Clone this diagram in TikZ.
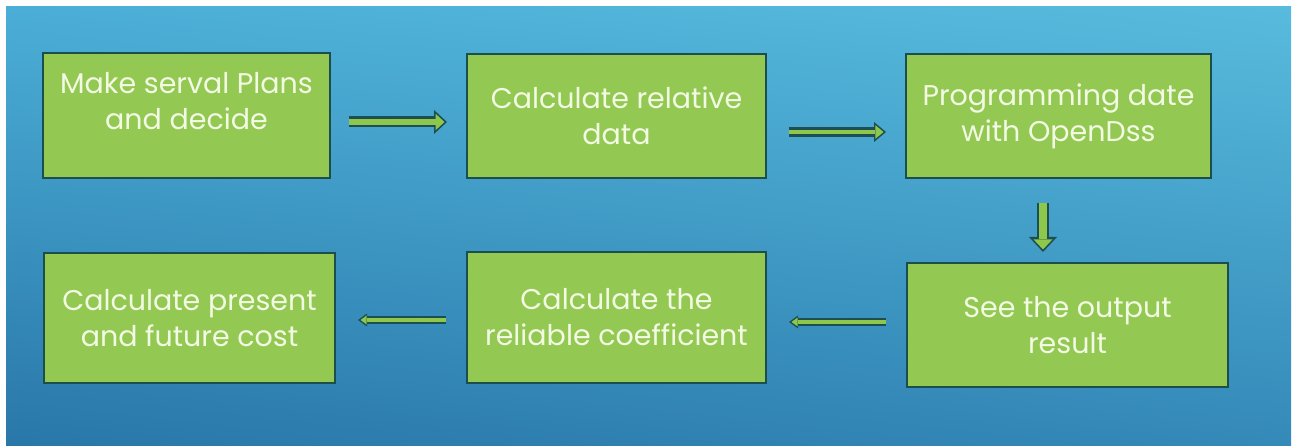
\documentclass[tikz,border=0pt]{standalone}
\usepackage{fontspec}
\setmainfont{Poppins}
\usepackage{xcolor}
\usepackage{tikz}
\usetikzlibrary{arrows.meta, positioning, calc, shadings}
\definecolor{skytop}{HTML}{4BAED6}
\definecolor{skytopright}{HTML}{58BBDD}
\definecolor{seabottom}{HTML}{2977A9}
\definecolor{seabottomright}{HTML}{3489B8}
\definecolor{panelgreen}{HTML}{93C953}
\definecolor{paneledge}{HTML}{1C4E4C}
\definecolor{labelwhite}{HTML}{F3FAE3}
\definecolor{arrowgreen}{HTML}{8DC84D}
\definecolor{arrowdark}{HTML}{1D4F52}

\tikzset{
  panel/.style={draw=paneledge, line width=2pt, fill=panelgreen, text=labelwhite,
    font=\fontsize{28.5}{36}\selectfont, align=center, inner sep=0pt},
  flowarrow/.style n args={3}{
    preaction={draw=arrowdark, line width=#1, -{Triangle[length=#3, width=#2, line width=0pt]}},
    draw=arrowgreen, line width=#1-5pt,
    -{Triangle[length=#3, width=#2, scale=0.68, sep=2.5pt, line width=0pt]}},
}

\begin{document}
\begin{tikzpicture}[x=1pt, y=-1pt]
  % Page frame and backdrop
  \useasboundingbox (0,0) rectangle (1298,446);
  \shade[upper left=skytop, upper right=skytopright, lower left=seabottom, lower right=seabottomright]
    (6,7) rectangle (1291,446);

  % Top row of steps
  \node[panel, minimum width=287pt, minimum height=125pt] (plans) at (186.5,115.5)
    {Make serval Plans\\and decide\\[-6pt]\mbox{}};
  \node[panel, minimum width=299pt, minimum height=124pt] (relative) at (616.5,116)
    {Calculate relative\\data};
  \node[panel, minimum width=305pt, minimum height=124pt] (program) at (1058.5,116)
    {Programming date\\with OpenDss};

  % Bottom row of steps
  \node[panel, minimum width=321pt, minimum height=124pt] (output) at (1067.5,325)
    {See the output\\result};
  \node[panel, minimum width=299pt, minimum height=131pt] (reliable) at (616.5,317.5)
    {Calculate the\\reliable coefficient};
  \node[panel, minimum width=291pt, minimum height=130pt] (cost) at (189.5,318)
    {Calculate present\\and future cost};

  % Block arrows between steps
  \draw[flowarrow={11pt}{24pt}{13pt}, shorten <=18pt, shorten >=19pt]
    ([yshift=-6.5pt]plans.east) -- ([yshift=-6.5pt]plans.east -| relative.west);
  \draw[flowarrow={9.5pt}{20pt}{12pt}, shorten <=22pt, shorten >=19pt]
    ([yshift=-16pt]relative.east) -- ([yshift=-16pt]relative.east -| program.west);
  \draw[flowarrow={12.5pt}{28pt}{15pt}, shorten <=24pt, shorten >=10pt]
    ([xshift=-15.5pt]program.south) -- ([xshift=-15.5pt]program.south |- output.north);
  \draw[flowarrow={8.5pt}{13pt}{9pt}, shorten <=20pt, shorten >=22pt]
    ([yshift=3pt]output.west) -- ([yshift=3pt]output.west -| reliable.east);
  \draw[flowarrow={8.5pt}{13pt}{9pt}, shorten <=20pt, shorten >=22pt]
    ([yshift=-2.5pt]reliable.west) -- ([yshift=-2.5pt]reliable.west -| cost.east);
\end{tikzpicture}
\end{document}
